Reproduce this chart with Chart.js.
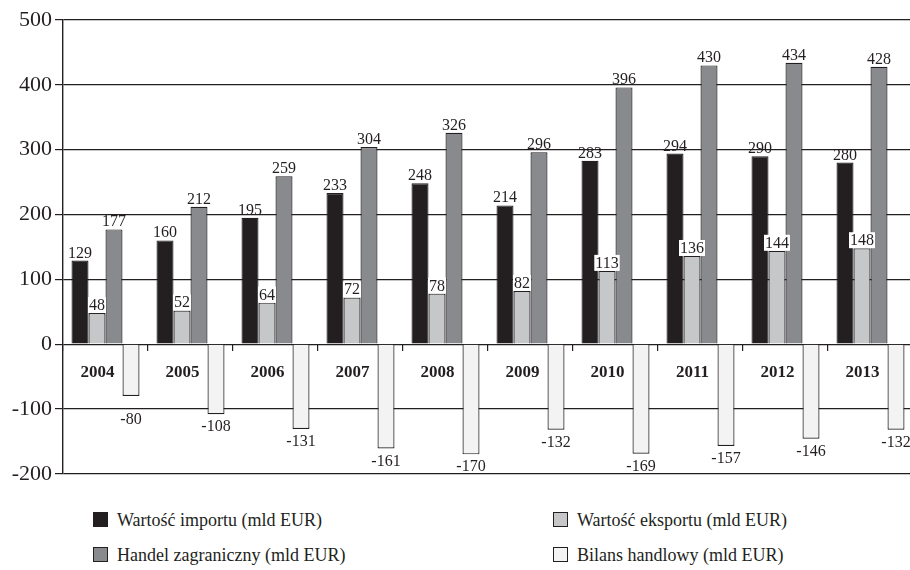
<!DOCTYPE html>
<html lang="pl">
<head>
<meta charset="utf-8">
<title>Handel zagraniczny 2004–2013</title>
<script src="https://cdn.jsdelivr.net/npm/chart.js@4/dist/chart.umd.min.js"></script>
<style>
  html, body { margin: 0; padding: 0; background: #fff; overflow: hidden; }
  #wrap { position: relative; width: 910px; height: 570px; }
  #chart { position: absolute; left: 0; top: 0; }
  .legend-item {
    position: absolute;
    font-family: "Liberation Serif", "Times New Roman", serif;
    font-size: 18px;
    color: #231f20;
    white-space: nowrap;
    line-height: 20px;
  }
  .legend-box {
    position: absolute;
    width: 15px; height: 15px;
    border: 1px solid #231f20;
    box-sizing: border-box;
  }
</style>
</head>
<body>
<div id="wrap">
  <canvas id="chart" width="913" height="490"></canvas>
</div>
<script>
// Lata i wartości (mld EUR)
const years = ['2004', '2005', '2006', '2007', '2008', '2009', '2010', '2011', '2012', '2013'];
const importValues  = [129, 160, 195, 233, 248, 214, 283, 294, 290, 280];
const exportValues  = [48, 52, 64, 72, 78, 82, 113, 136, 144, 148];
const tradeValues   = [177, 212, 259, 304, 326, 296, 396, 430, 434, 428];
const balanceValues = [-80, -108, -131, -161, -170, -132, -169, -157, -146, -132];

const seriesNames = [
  'Wartość importu (mld EUR)',
  'Wartość eksportu (mld EUR)',
  'Handel zagraniczny (mld EUR)',
  'Bilans handlowy (mld EUR)'
];
const seriesColors = ['#231f20', '#c6c7c8', '#898a8d', '#f3f3f3'];

const yTicks = [500, 400, 300, 200, 100, 0, -100, -200];

const ink = '#231f20';
const serif = '"Liberation Serif", "Times New Roman", serif';

// Value labels: above positive bars, below negative bars (stepping past grid lines)
const valueLabels = {
  id: 'valueLabels',
  afterDatasetsDraw(chart) {
    const ctx = chart.ctx;
    const yScale = chart.scales.y;
    ctx.save();
    ctx.font = '16px ' + serif;
    ctx.textAlign = 'center';
    ctx.textBaseline = 'alphabetic';
    chart.data.datasets.forEach((ds, i) => {
      const meta = chart.getDatasetMeta(i);
      meta.data.forEach((bar, j) => {
        const v = ds.data[j];
        const text = String(v);
        if (v >= 0) {
          const base = bar.y - 3;
          if (ds.labelBackground) {
            const w = ctx.measureText(text).width;
            ctx.fillStyle = '#ffffff';
            ctx.fillRect(bar.x - w / 2 - 1, base - 13, w + 2, 16);
          }
          ctx.fillStyle = ink;
          ctx.fillText(text, bar.x, base);
        } else {
          const h = 11;
          let top = bar.y + 6;
          yTicks.forEach(t => {
            const gy = yScale.getPixelForValue(t);
            if (gy > top - 1 && gy < top + h + 1 && gy < yScale.bottom - 1) top = gy + 4;
          });
          ctx.fillStyle = ink;
          ctx.fillText(text, bar.x, top + h);
        }
      });
    });
    ctx.restore();
  }
};

const valueSets = [importValues, exportValues, tradeValues, balanceValues];
const datasets = valueSets.map((vals, i) => ({
  label: seriesNames[i],
  data: vals,
  backgroundColor: seriesColors[i],
  borderColor: ink,
  borderWidth: 1.2,
  labelBackground: i === 1
}));

new Chart(document.getElementById('chart'), {
  type: 'bar',
  data: { labels: years, datasets },
  options: {
    responsive: false,
    animation: false,
    events: [],
    layout: { padding: { top: 20, bottom: 14, left: 0, right: 0 } },
    datasets: { bar: { categoryPercentage: 0.8, barPercentage: 1.0 } },
    plugins: { legend: { display: false }, tooltip: { enabled: false } },
    scales: {
      x: {
        position: { y: 0 },
        offset: true,
        grid: {
          display: true,
          offset: true,
          drawOnChartArea: false,
          drawTicks: true,
          tickLength: 7,
          color: ink,
          lineWidth: 1.2
        },
        border: { display: false },
        ticks: {
          font: { family: serif, size: 17, weight: 'bold' },
          color: ink,
          padding: 11,
          labelOffset: -8,
          maxRotation: 0,
          autoSkip: false
        }
      },
      y: {
        min: -200,
        max: 500,
        afterBuildTicks(scale) { scale.ticks = yTicks.slice().reverse().map(v => ({ value: v })); },
        afterFit(scale) { scale.width = 63; },
        ticks: {
          font: { family: serif, size: 22 },
          color: ink,
          padding: 3,
          callback: v => String(v)
        },
        grid: { color: ink, lineWidth: 1.2, tickLength: 8 },
        border: { display: true, color: ink, width: 1.4 }
      }
    }
  },
  plugins: [valueLabels]
});

// Legend in two columns below the plot
const legendSpots = [
  { left: 93, top: 510 },
  { left: 553, top: 510 },
  { left: 93, top: 545 },
  { left: 553, top: 545 }
];
const wrap = document.getElementById('wrap');
seriesNames.forEach((name, i) => {
  const item = document.createElement('div');
  item.className = 'legend-item';
  item.style.left = legendSpots[i].left + 'px';
  item.style.top = legendSpots[i].top + 'px';
  const box = document.createElement('span');
  box.className = 'legend-box';
  box.style.left = '0px';
  box.style.top = '2px';
  box.style.background = seriesColors[i];
  const label = document.createElement('span');
  label.style.marginLeft = '24px';
  label.textContent = name;
  item.appendChild(box);
  item.appendChild(label);
  wrap.appendChild(item);
});
</script>
</body>
</html>
